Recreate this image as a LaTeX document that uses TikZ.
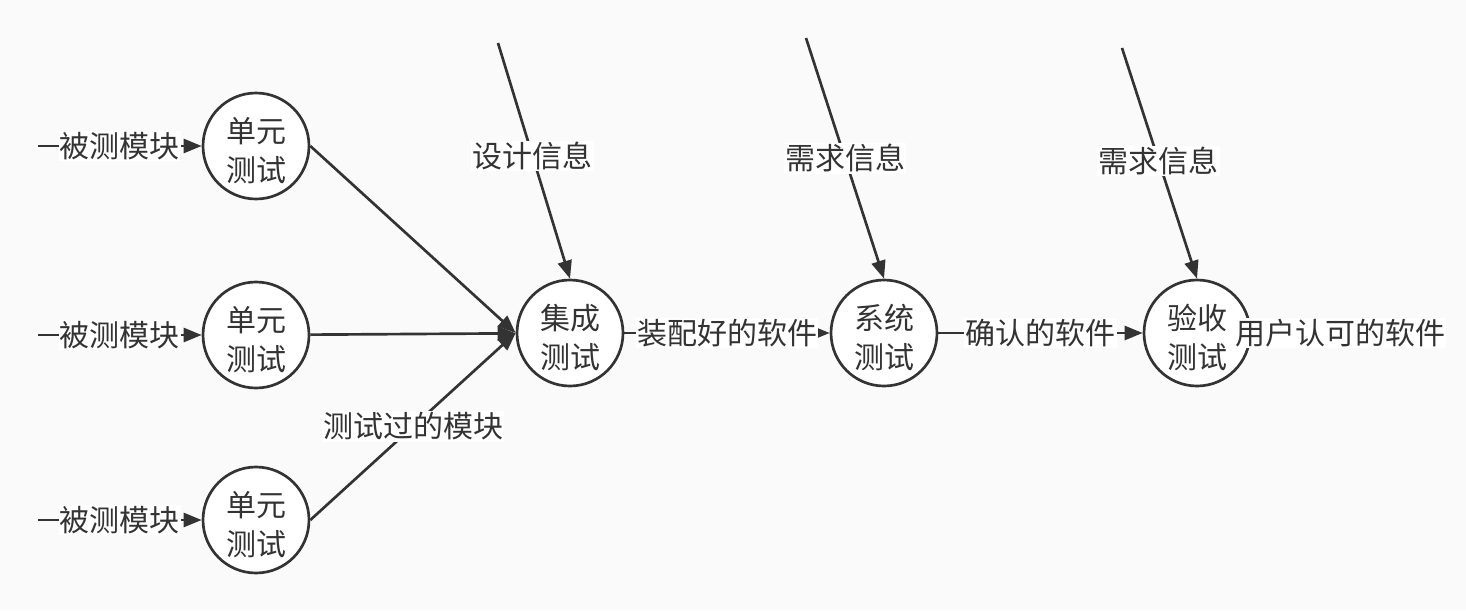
\documentclass[tikz,border=0pt]{standalone}
\usepackage{fontspec}
\setmainfont{Noto Sans CJK SC}
\usetikzlibrary{arrows.meta}
\definecolor{ink}{HTML}{333333}
\definecolor{bg}{HTML}{FAFAFA}
\newcommand{\dropstrut}{\rule{0pt}{26pt}}
\begin{document}
\begin{tikzpicture}[x=0.75pt,y=-0.75pt,
  proc/.style={circle,draw=ink,line width=2pt,fill=white,minimum size=79.5pt,inner sep=0pt,align=center,font=\fontsize{22.5}{29}\selectfont,text=ink},
  lab/.style={fill=white,inner sep=1pt,font=\fontsize{22.5}{26}\selectfont,text=ink},
  flow/.style={draw=ink,line width=2pt,-{Triangle[length=13.5pt,width=10.5pt]}},
]
\fill[bg] (0,0) rectangle (1466,610);
\useasboundingbox (0,0) rectangle (1466,610);
\node[proc] (u1) at (256,146) {\dropstrut 单元\\测试};
\node[proc] (u2) at (256,335) {\dropstrut 单元\\测试};
\node[proc] (u3) at (256,520) {\dropstrut 单元\\测试};
\node[proc] (int) at (570,333) {\dropstrut 集成\\测试};
\node[proc] (sys) at (884,333) {\dropstrut 系统\\测试};
\node[proc] (acc) at (1197,333) {\dropstrut 验收\\测试};
\coordinate (i1) at (38,146);
\coordinate (i2) at (38,335);
\coordinate (i3) at (38,520);
\coordinate (t1) at (498,43);
\coordinate (t2) at (806,38);
\coordinate (t3) at (1122,48);
\draw[flow] (i1) -- node[lab]{被测模块} (u1);
\draw[flow] (i2) -- node[lab]{被测模块} (u2);
\draw[flow] (i3) -- node[lab]{被测模块} (u3);
\draw[flow] (u1.east) -- (int.west);
\draw[flow] (u2) -- (int);
\draw[flow] (u3.east) -- node[lab]{测试过的模块} (int.west);
\draw[flow] (t1) -- node[lab,pos=0.48]{设计信息} (int.north);
\draw[flow] (t2) -- node[lab,pos=0.5]{需求信息} (sys.north);
\draw[flow] (t3) -- node[lab,pos=0.49]{需求信息} (acc.north);
\draw[flow] (int) -- node[lab]{装配好的软件} (sys);
\draw[flow] (sys) -- node[lab]{确认的软件} (acc);
\node[lab] (out) at (1340,333) {用户认可的软件};
\end{tikzpicture}
\end{document}
